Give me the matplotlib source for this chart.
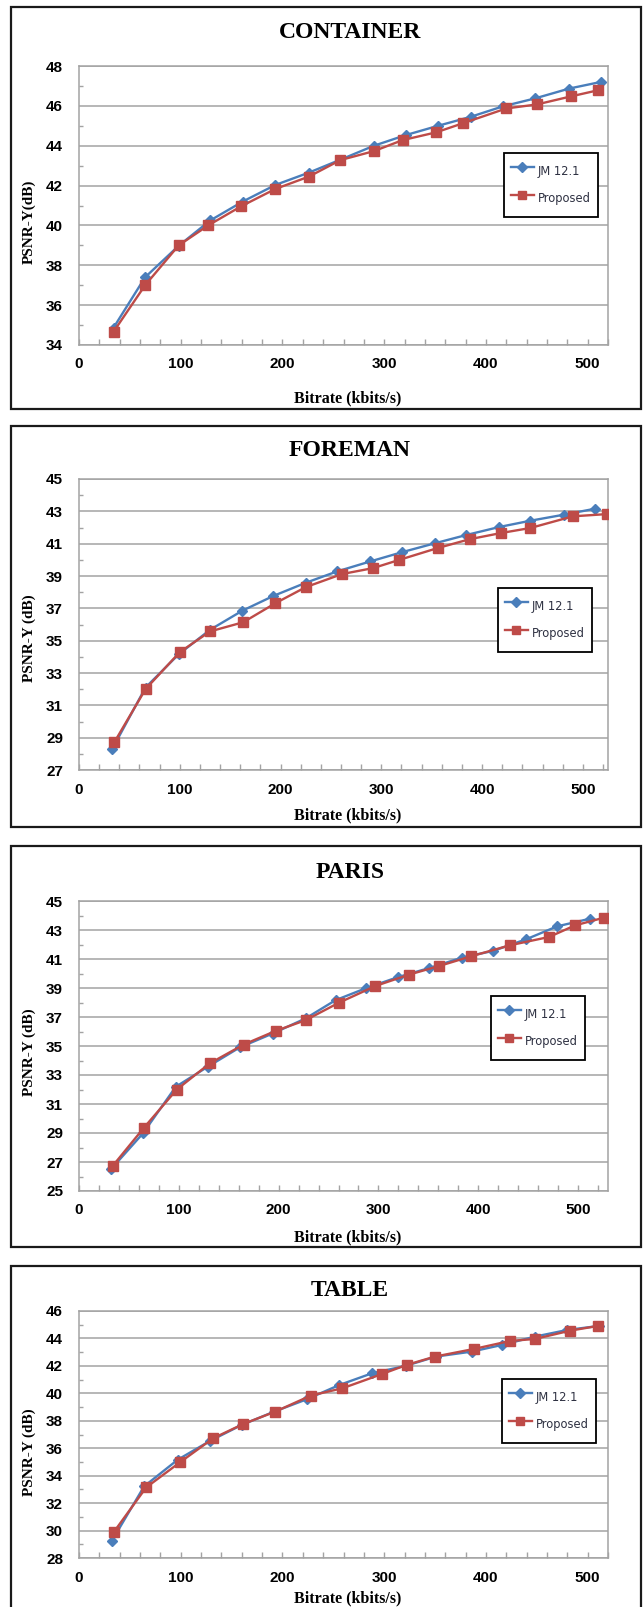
import matplotlib
matplotlib.use("Agg")
import matplotlib.pyplot as plt
from matplotlib.patches import Rectangle
from matplotlib.ticker import MultipleLocator, FixedLocator
from matplotlib.font_manager import FontProperties

# ---------------- data ----------------
titles = ["CONTAINER", "FOREMAN", "PARIS", "TABLE"]
ylabels = ["PSNR-Y(dB)", "PSNR-Y (dB)", "PSNR-Y (dB)", "PSNR-Y (dB)"]
xlabel_text = "Bitrate (kbits/s)"
series_names = ["JM 12.1", "Proposed"]

container_jm_x = [34, 65, 98, 129, 161, 193, 226, 257, 290, 321, 353, 385, 417, 448, 482, 513]
container_jm_y = [34.87, 37.4, 38.98, 40.25, 41.2, 42.03, 42.65, 43.3, 44.0, 44.53, 45.0, 45.45, 45.98, 46.37, 46.87, 47.2]
container_pr_x = [34, 65, 98, 127, 159, 193, 226, 257, 290, 318, 351, 377, 420, 450, 484, 510]
container_pr_y = [34.67, 37.0, 39.0, 40.0, 40.95, 41.83, 42.45, 43.28, 43.73, 44.28, 44.67, 45.12, 45.87, 46.07, 46.48, 46.78]

foreman_jm_x = [33, 66, 99, 130, 162, 193, 225, 256, 289, 321, 353, 384, 417, 448, 481, 512]
foreman_jm_y = [28.3, 32.1, 34.16, 35.67, 36.85, 37.77, 38.58, 39.28, 39.9, 40.48, 41.02, 41.53, 42.03, 42.42, 42.79, 43.16]
foreman_pr_x = [35, 66, 100, 130, 163, 195, 225, 261, 292, 318, 356, 388, 419, 448, 490, 524]
foreman_pr_y = [28.71, 32.0, 34.29, 35.57, 36.14, 37.32, 38.31, 39.12, 39.49, 40.0, 40.73, 41.28, 41.66, 41.97, 42.69, 42.83]

paris_jm_x = [32, 64, 97, 129, 161, 194, 227, 257, 288, 320, 351, 384, 415, 448, 479, 512]
paris_jm_y = [26.5, 28.97, 32.19, 33.57, 34.9, 35.86, 36.9, 38.16, 39.0, 39.76, 40.38, 41.1, 41.56, 42.36, 43.25, 43.78]
paris_pr_x = [34, 65, 98, 131, 165, 197, 227, 260, 297, 331, 361, 393, 432, 471, 497, 526]
paris_pr_y = [26.75, 29.36, 32.0, 33.8, 35.1, 36.04, 36.78, 37.97, 39.14, 39.93, 40.52, 41.19, 41.95, 42.52, 43.32, 43.85]

table_jm_x = [32, 64, 97, 129, 160, 192, 224, 256, 288, 321, 351, 386, 416, 448, 480, 511]
table_jm_y = [29.21, 33.22, 35.16, 36.54, 37.7, 38.67, 39.57, 40.61, 41.46, 42.0, 42.68, 43.04, 43.53, 44.13, 44.62, 44.91]
table_pr_x = [34, 66, 99, 132, 161, 193, 228, 259, 298, 322, 350, 388, 424, 448, 483, 510]
table_pr_y = [29.87, 33.14, 34.96, 36.73, 37.75, 38.67, 39.84, 40.37, 41.41, 42.07, 42.68, 43.23, 43.82, 43.96, 44.57, 44.91]

x_ticks = [0, 100, 200, 300, 400, 500]
x_limits = [520, 525, 530, 520]
y_ranges = [(34, 48), (27, 45), (25, 45), (28, 46)]

# ---------------- layout (pixels) ----------------
W, H = 643, 1607
frames = [(7, 409), (426, 827), (846, 1247), (1266, 1625)]
axes_px = [(66, 345), (479, 770), (901, 1191), (1311, 1558)]
title_y = [33, 450, 872, 1290]
xlabel_y = [398, 815, 1237, 1598]
ylabel_y = [222, 638, 1052, 1452]
legend_pos = [(504, 153), (498, 588), (491, 996), (502, 1379)]
AX_L, AX_R = 79, 608

BLUE = "#4a7ebb"
RED = "#be4b48"
GRID = "#a3a3a3"

fig = plt.figure(figsize=(W / 100, H / 100), dpi=100)
fig.patch.set_facecolor("white")

data = [
    (container_jm_x, container_jm_y, container_pr_x, container_pr_y),
    (foreman_jm_x, foreman_jm_y, foreman_pr_x, foreman_pr_y),
    (paris_jm_x, paris_jm_y, paris_pr_x, paris_pr_y),
    (table_jm_x, table_jm_y, table_pr_x, table_pr_y),
]

tick_fp = FontProperties(family="Liberation Sans", weight="bold", size=11)
serif_bold = ["Liberation Serif", "DejaVu Serif"]

for i in range(4):
    ft, fb = frames[i]
    fig.patches.append(Rectangle((11 / W, 1 - fb / H), (641 - 11) / W, (fb - ft) / H,
                                 transform=fig.transFigure, fill=False,
                                 edgecolor="#1a1a1a", linewidth=1.6, zorder=0))
    at, ab = axes_px[i]
    ax = fig.add_axes([AX_L / W, 1 - ab / H, (AX_R - AX_L) / W, (ab - at) / H])
    jx, jy, px_, py = data[i]
    ax.plot(jx, jy, color=BLUE, lw=1.7, marker="D", ms=5.5, mec=BLUE, mfc=BLUE,
            label=series_names[0], zorder=3)
    ax.plot(px_, py, color=RED, lw=1.7, marker="s", ms=6.8, mec=RED, mfc=RED,
            label=series_names[1], zorder=4)
    y0, y1 = y_ranges[i]
    ax.set_xlim(0, x_limits[i])
    ax.set_ylim(y0, y1)
    ax.xaxis.set_major_locator(FixedLocator(x_ticks))
    ax.xaxis.set_minor_locator(MultipleLocator(20))
    ax.yaxis.set_major_locator(FixedLocator(list(range(y0, y1 + 1, 2))))
    ax.yaxis.set_minor_locator(FixedLocator(list(range(y0 + 1, y1, 2))))
    ax.grid(axis="y", which="major", color=GRID, lw=1.1, zorder=1)
    ax.set_axisbelow(True)
    for s in ax.spines.values():
        s.set_color(GRID)
        s.set_linewidth(1.1)
    ax.tick_params(axis="both", which="both", direction="in", color=GRID, width=1)
    ax.tick_params(axis="x", which="both", length=4, pad=9)
    ax.tick_params(axis="y", which="major", length=0, pad=11.5)
    ax.tick_params(axis="y", which="minor", length=3)
    for lab in ax.get_xticklabels() + ax.get_yticklabels():
        lab.set_fontproperties(tick_fp)
    lx, ly = legend_pos[i]
    leg = ax.legend(loc="upper left", bbox_to_anchor=(lx / W, 1 - ly / H),
                    bbox_transform=fig.transFigure, borderaxespad=0,
                    prop=dict(family="DejaVu Sans", size=8.3),
                    handlelength=2.0, handletextpad=0.35, borderpad=0.6,
                    handleheight=2.6, labelspacing=0.45, fancybox=False,
                    framealpha=1, edgecolor="black", markerscale=0.85)
    leg.get_frame().set_linewidth(1.3)
    for t in leg.get_texts():
        t.set_color("#2e3142")

    fig.text(350 / W, 1 - title_y[i] / H, titles[i], ha="center", va="center",
             family=serif_bold, weight="bold", size=17)
    fig.text(348 / W, 1 - xlabel_y[i] / H, xlabel_text, ha="center", va="center",
             family=serif_bold, weight="bold", size=11.5)
    fig.text(29 / W, 1 - ylabel_y[i] / H, ylabels[i], ha="center", va="center",
             rotation=90, family=serif_bold, weight="bold", size=11)

fig.savefig("out.png", dpi=100)
